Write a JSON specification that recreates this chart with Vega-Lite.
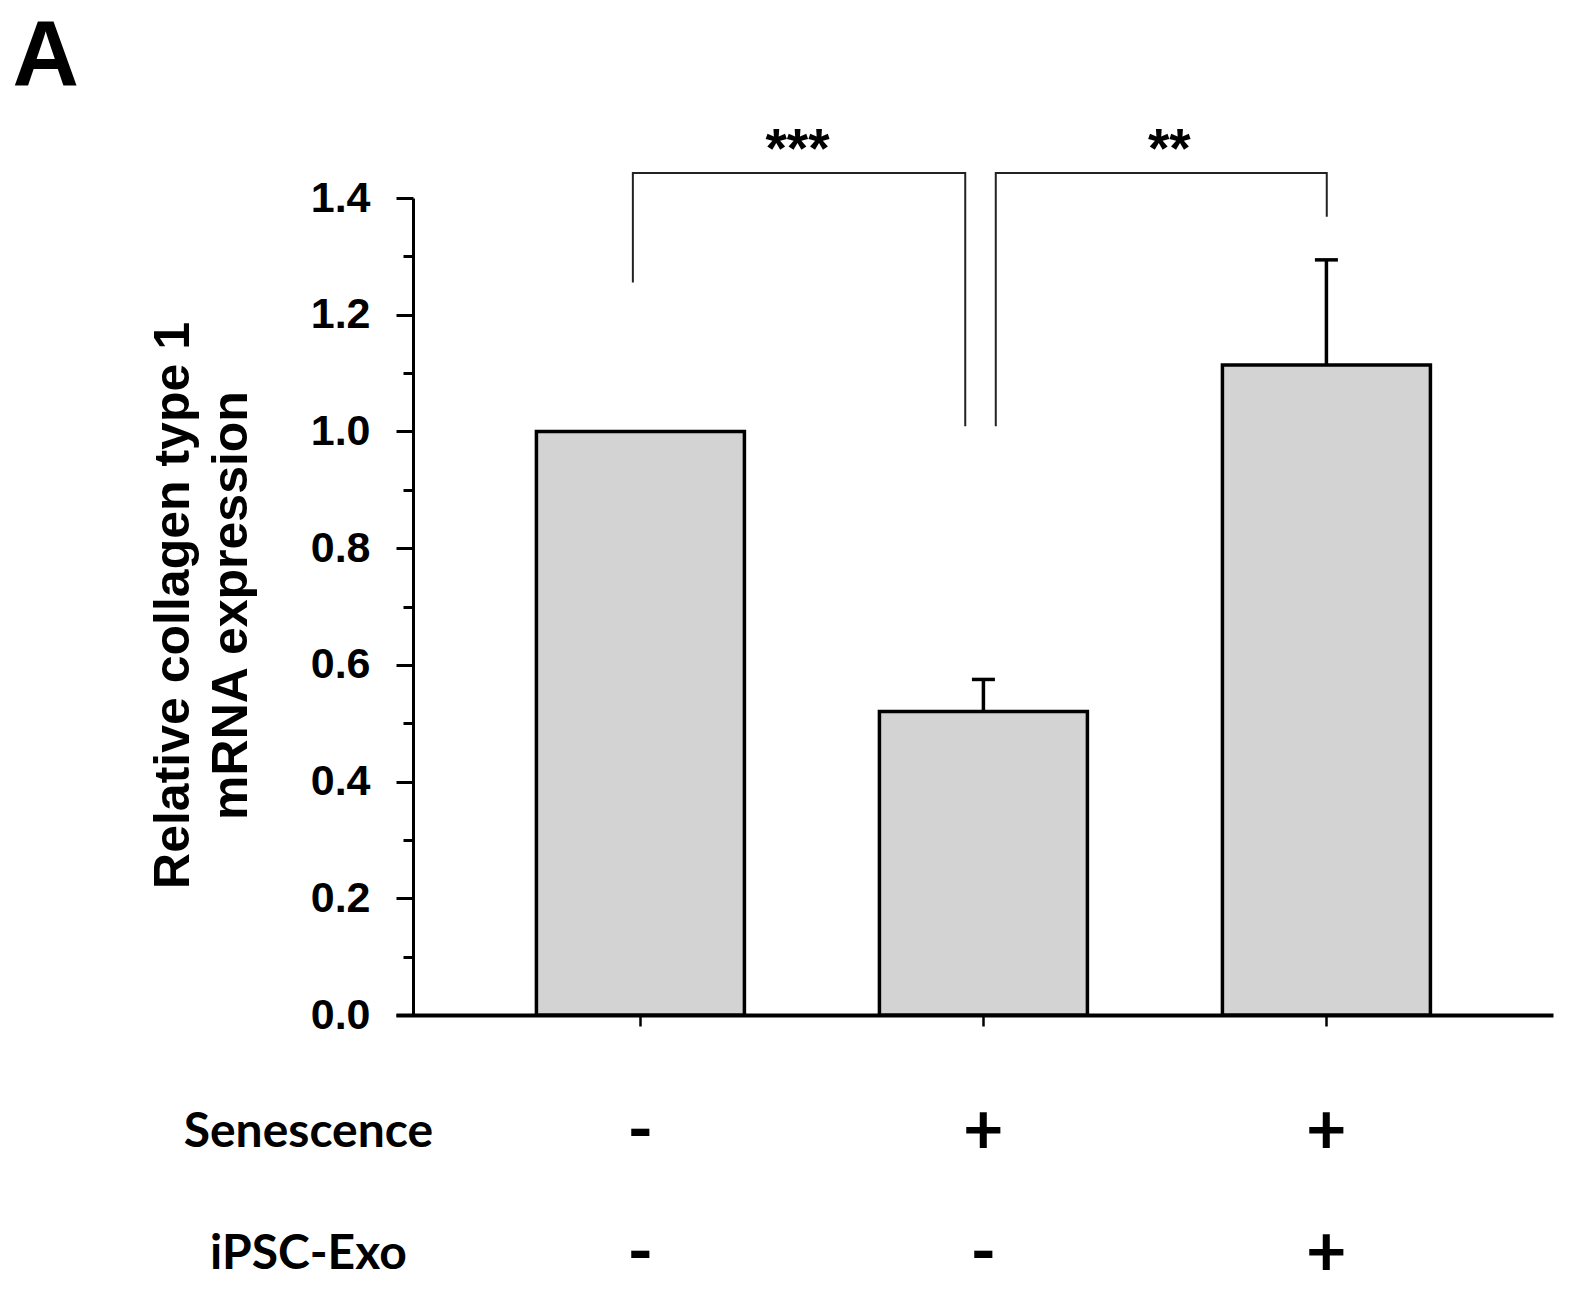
{
  "$schema": "https://vega.github.io/schema/vega-lite/v6.json",
  "autosize": {"type": "none"},
  "width": 1157,
  "height": 817,
  "padding": {"left": 396, "top": 198, "right": 19, "bottom": 275},
  "background": "white",
  "config": {"view": {"stroke": null}},
  "datasets": {
    "bars": [
      {"g": 1, "value": 1.0, "upper": null},
      {"g": 2, "value": 0.52, "upper": 0.575},
      {"g": 3, "value": 1.114, "upper": 1.294}
    ],
    "brackets": [
      {"bracket": "a", "i": 1, "g": 0.978, "y": 1.255},
      {"bracket": "a", "i": 2, "g": 0.978, "y": 1.443},
      {"bracket": "a", "i": 3, "g": 1.947, "y": 1.443},
      {"bracket": "a", "i": 4, "g": 1.947, "y": 1.009},
      {"bracket": "b", "i": 1, "g": 2.036, "y": 1.009},
      {"bracket": "b", "i": 2, "g": 2.036, "y": 1.443},
      {"bracket": "b", "i": 3, "g": 3.001, "y": 1.443},
      {"bracket": "b", "i": 4, "g": 3.001, "y": 1.368}
    ],
    "stars": [
      {"g": 1.458, "y": 1.453, "label": "***"},
      {"g": 2.542, "y": 1.453, "label": "**"}
    ],
    "panel": [
      {"label": "A"}
    ],
    "table": [
      {"g": 0, "row": "Senescence", "text": "Senescence"},
      {"g": 1, "row": "Senescence", "text": "-"},
      {"g": 2, "row": "Senescence", "text": "+"},
      {"g": 3, "row": "Senescence", "text": "+"},
      {"g": 0, "row": "iPSC-Exo", "text": "iPSC-Exo"},
      {"g": 1, "row": "iPSC-Exo", "text": "-"},
      {"g": 2, "row": "iPSC-Exo", "text": "-"},
      {"g": 3, "row": "iPSC-Exo", "text": "+"}
    ]
  },
  "layer": [
    {
      "layer": [
        {
          "data": {"name": "bars"},
          "mark": {"type": "bar", "width": 208, "orient": "vertical", "fill": "#d3d3d3", "stroke": "black", "strokeWidth": 3.5},
          "encoding": {
            "x": {"field": "g", "type": "quantitative", "scale": {"domain": [0.302, 3.646], "nice": false, "zero": false},
              "axis": {"values": [1, 2, 3], "labels": false, "ticks": true, "tickSize": 11, "tickWidth": 2.5, "tickColor": "black", "domainColor": "black", "domainWidth": 4, "title": null, "grid": false}},
            "y": {"field": "value", "type": "quantitative", "scale": {"domain": [0, 1.4], "nice": false, "zero": false},
              "axis": {
                "values": [0, 0.1, 0.2, 0.3, 0.4, 0.5, 0.6, 0.7, 0.8, 0.9, 1.0, 1.1, 1.2, 1.3, 1.4],
                "offset": -17,
                "grid": false,
                "domainColor": "black", "domainWidth": 3,
                "tickColor": "black", "tickWidth": 3,
                "tickSize": {"condition": {"test": "round(datum.value*10) % 2 == 0", "value": 17}, "value": 10},
                "labelExpr": "round(datum.value*10) % 2 == 0 ? format(datum.value, '.1f') : ''",
                "labelOverlap": false, "labelFlush": false, "labelBound": false,
                "labelFont": "Liberation Sans", "labelFontWeight": "bold", "labelFontSize": 43, "labelColor": "black", "labelPadding": 26,
                "title": ["Relative collagen type 1", "mRNA expression"],
                "titleFont": "Liberation Sans", "titleFontSize": 50, "titleFontWeight": "bold", "titleColor": "black",
                "titleLineHeight": 58, "titleAngle": -90, "titleAlign": "center", "titleBaseline": "alphabetic",
                "titleX": -225, "titleY": 407
              }}
          }
        },
        {
          "data": {"name": "bars"},
          "transform": [{"filter": "isValid(datum.upper)"}],
          "mark": {"type": "rule", "stroke": "black", "strokeWidth": 3.5},
          "encoding": {
            "x": {"field": "g", "type": "quantitative", "scale": {"domain": [0.302, 3.646], "nice": false, "zero": false}},
            "y": {"field": "value", "type": "quantitative", "scale": {"domain": [0, 1.4], "nice": false, "zero": false}},
            "y2": {"field": "upper"}
          }
        },
        {
          "data": {"name": "bars"},
          "transform": [{"filter": "isValid(datum.upper)"}],
          "mark": {"type": "tick", "orient": "horizontal", "size": 23, "thickness": 3.5, "color": "black", "opacity": 1},
          "encoding": {
            "x": {"field": "g", "type": "quantitative", "scale": {"domain": [0.302, 3.646], "nice": false, "zero": false}},
            "y": {"field": "upper", "type": "quantitative", "scale": {"domain": [0, 1.4], "nice": false, "zero": false}}
          }
        },
        {
          "data": {"name": "brackets"},
          "mark": {"type": "line", "stroke": "#222222", "strokeWidth": 2, "strokeJoin": "miter", "strokeCap": "butt"},
          "encoding": {
            "x": {"field": "g", "type": "quantitative", "scale": {"domain": [0.302, 3.646], "nice": false, "zero": false}},
            "y": {"field": "y", "type": "quantitative", "scale": {"domain": [0, 1.4], "nice": false, "zero": false}},
            "detail": {"field": "bracket"},
            "order": {"field": "i", "type": "quantitative"}
          }
        },
        {
          "data": {"name": "stars"},
          "mark": {"type": "text", "font": "Liberation Sans", "fontWeight": "bold", "fontSize": 55, "align": "center", "baseline": "alphabetic", "color": "black"},
          "encoding": {
            "x": {"field": "g", "type": "quantitative", "scale": {"domain": [0.302, 3.646], "nice": false, "zero": false}},
            "y": {"field": "y", "type": "quantitative", "scale": {"domain": [0, 1.4], "nice": false, "zero": false}},
            "text": {"field": "label"}
          }
        },
        {
          "data": {"name": "panel"},
          "mark": {"type": "text", "font": "Liberation Sans", "fontWeight": "bold", "fontSize": 92, "align": "left", "baseline": "alphabetic", "color": "black"},
          "encoding": {
            "x": {"datum": -0.831, "type": "quantitative", "scale": {"domain": [0.302, 3.646], "nice": false, "zero": false}},
            "y": {"datum": 1.594, "type": "quantitative", "scale": {"domain": [0, 1.4], "nice": false, "zero": false}},
            "text": {"field": "label"}
          }
        }
      ]
    },
    {
      "data": {"name": "table"},
      "layer": [
        {
          "transform": [{"filter": "datum.g == 0"}],
          "mark": {"type": "text", "font": "Lato", "fontWeight": "bold", "fontSize": 48, "align": "center", "baseline": "middle", "dx": 11, "color": "black"},
          "encoding": {
            "x": {"field": "g", "type": "quantitative", "scale": {"domain": [0.302, 3.646], "nice": false, "zero": false}},
            "y": {"field": "row", "type": "nominal", "scale": {"type": "point", "domain": ["Senescence", "iPSC-Exo"], "range": [935, 1057], "padding": 0}, "axis": null},
            "text": {"field": "text"}
          }
        },
        {
          "transform": [{"filter": "datum.g > 0"}],
          "mark": {"type": "text", "font": "Lato", "fontWeight": "bold", "fontSize": 70, "align": "center", "baseline": "middle", "color": "black"},
          "encoding": {
            "x": {"field": "g", "type": "quantitative", "scale": {"domain": [0.302, 3.646], "nice": false, "zero": false}},
            "y": {"field": "row", "type": "nominal", "scale": {"type": "point", "domain": ["Senescence", "iPSC-Exo"], "range": [935, 1057], "padding": 0}, "axis": null},
            "text": {"field": "text"}
          }
        }
      ]
    }
  ],
  "resolve": {"scale": {"y": "independent"}}
}
